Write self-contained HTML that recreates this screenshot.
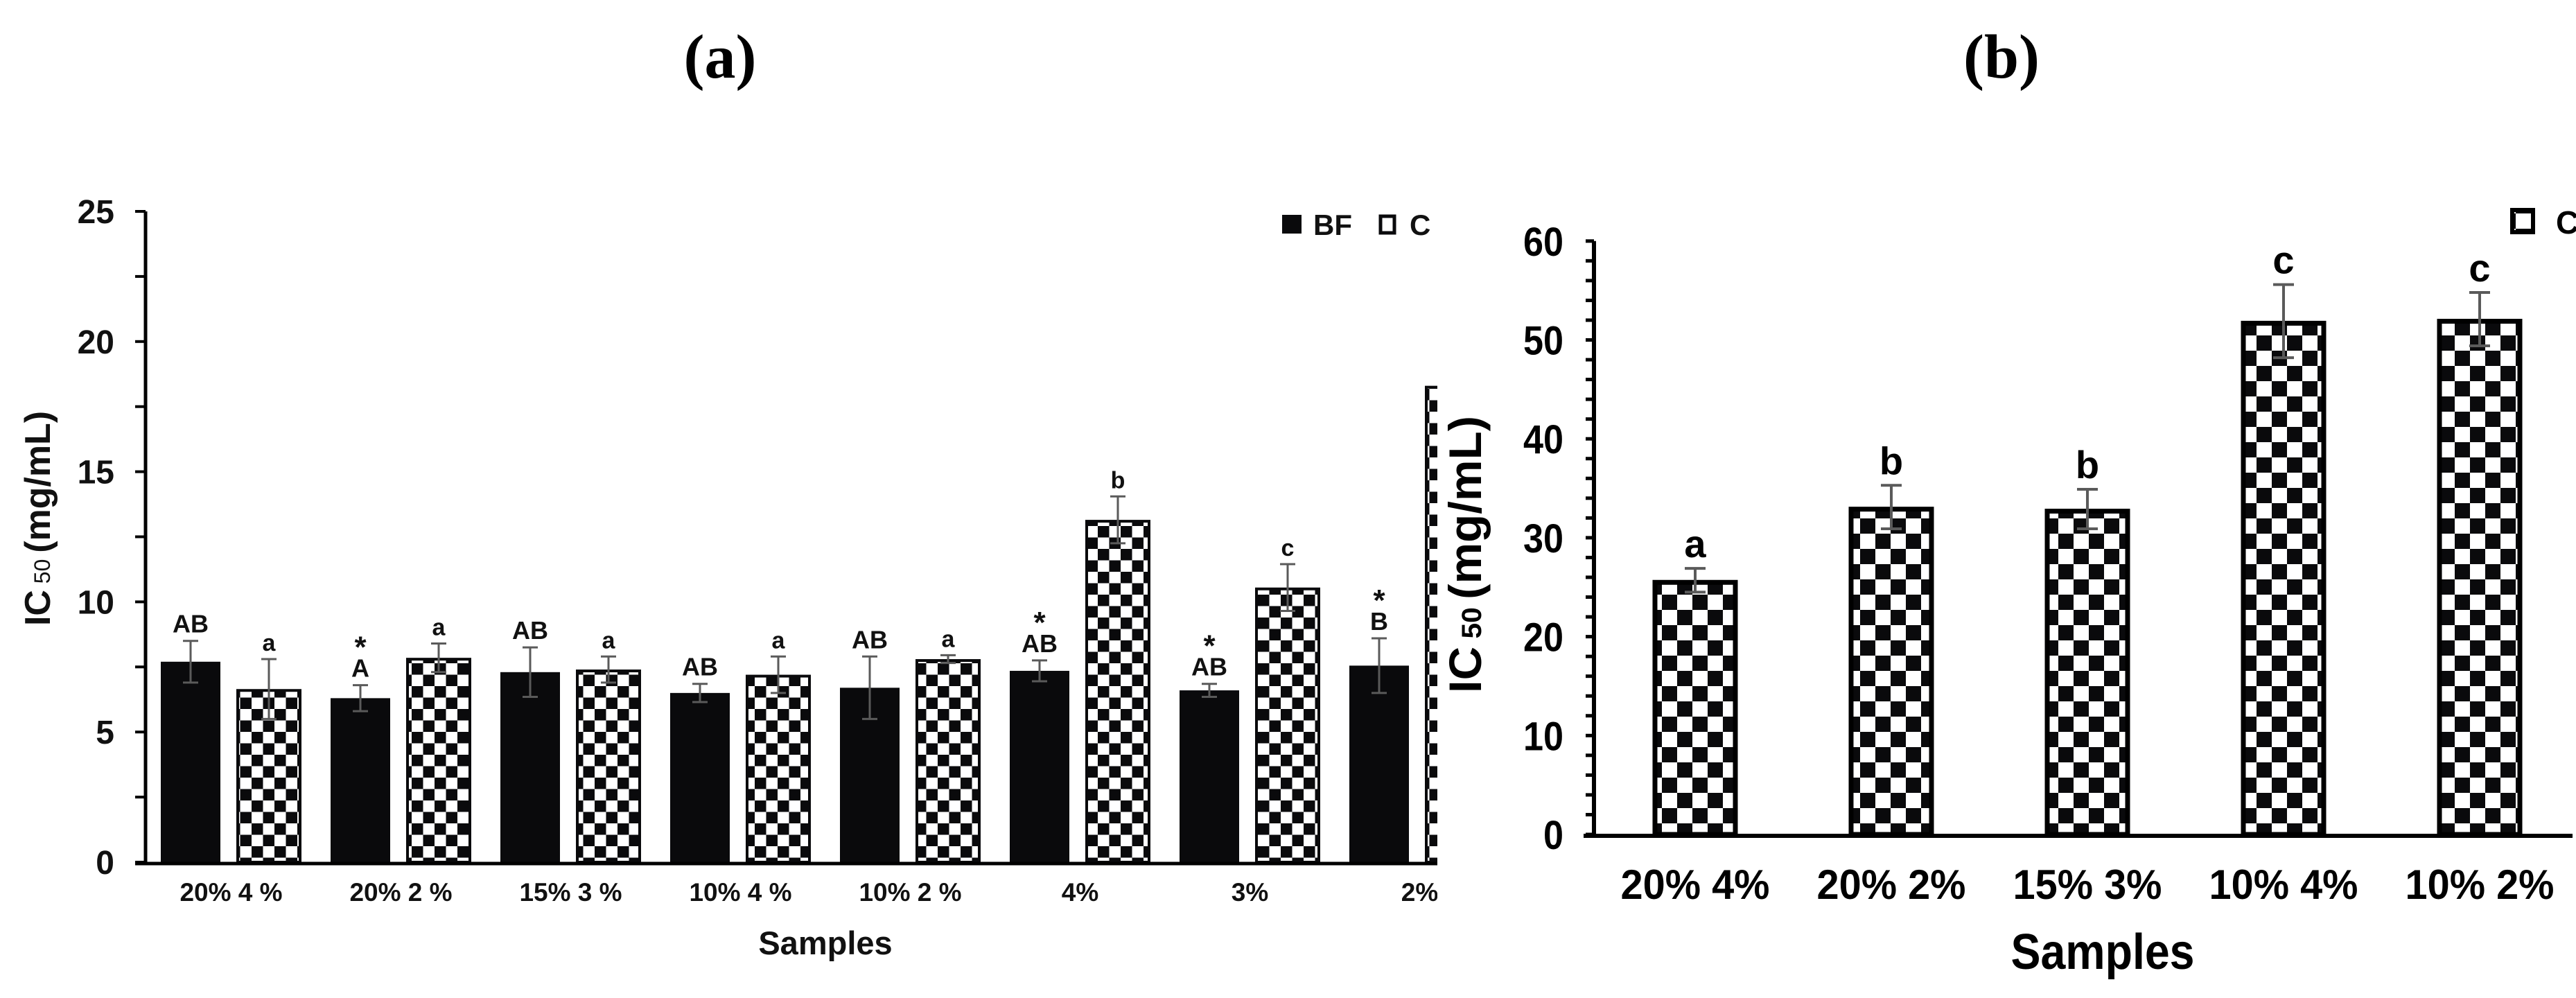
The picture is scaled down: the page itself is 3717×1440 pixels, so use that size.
<!DOCTYPE html>
<html><head><meta charset="utf-8">
<style>
html,body{margin:0;padding:0;background:#fff;}
svg{display:block;font-family:"Liberation Sans",Arial,sans-serif;}
</style></head>
<body>
<svg id="fig" width="3717" height="1440" viewBox="0 0 3717 1440" xmlns="http://www.w3.org/2000/svg">
<defs>
<pattern id="chkA" patternUnits="userSpaceOnUse" width="33" height="33"><rect width="33" height="33" fill="#fff"/><rect width="16.5" height="16.5" fill="#0a0a0c"/><rect x="16.5" y="16.5" width="16.5" height="16.5" fill="#0a0a0c"/></pattern>
<pattern id="chkB" patternUnits="userSpaceOnUse" width="44" height="44"><rect width="44" height="44" fill="#fff"/><rect width="22" height="22" fill="#0a0a0c"/><rect x="22" y="22" width="22" height="22" fill="#0a0a0c"/></pattern>
<clipPath id="clipA"><rect x="0" y="0" width="2074" height="1440"/></clipPath>
</defs>
<text x="1039" y="112" font-family="Liberation Serif, serif" font-weight="bold" font-size="90" text-anchor="middle">(a)</text>
<text x="2888" y="112" font-family="Liberation Serif, serif" font-weight="bold" font-size="90" text-anchor="middle">(b)</text>
<g id="chartA" clip-path="url(#clipA)"></g>
<g id="chartB"></g>
</svg>
<script>
// ---- Chart (a) data ----
const catsA = ["20% 4 %","20% 2 %","15% 3 %","10% 4 %","10% 2 %","4%","3%","2%"];
const bfVals = [7.7,6.3,7.3,6.5,6.7,7.35,6.6,7.55];
const bfErr = [0.8,0.5,0.95,0.35,1.2,0.4,0.25,1.05];
const cVals = [6.65,7.85,7.4,7.2,7.8,13.15,10.55,18.3];
const cErr = [1.15,0.55,0.5,0.7,0.15,0.9,0.9,0];
const bfLetters = ["AB","A","AB","AB","AB","AB","AB","B"];
const bfStars = [false,true,false,false,false,true,true,true];
const cLetters = ["a","a","a","a","a","b","c",""];
const ticksA = [0,5,10,15,20,25];
// ---- Chart (b) data ----
const catsB = ["20% 4%","20% 2%","15% 3%","10% 4%","10% 2%"];
const bVals = [25.7,33.1,32.9,51.9,52.1];
const bErr = [1.2,2.2,2.0,3.7,2.7];
const bLetters = ["a","b","b","c","c"];
const ticksB = [0,10,20,30,40,50,60];

const NS="http://www.w3.org/2000/svg";
function mk(parent,tag,attrs,text){const e=document.createElementNS(NS,tag);for(const k in attrs)e.setAttribute(k,attrs[k]);if(text!==undefined)e.textContent=text;parent.appendChild(e);return e;}

// ===== Chart A =====
const A=document.getElementById('chartA');
const yA=v=>1244-v*37.56;
const xGroupA=i=>232+i*245;
const bfW=86,cW=94,cOff=109;
let e;
e=mk(A,'line',{x1:210,y1:yA(25),x2:210,y2:1246,stroke:'#000','stroke-width':5});


for(let v=0;v<=25;v+=2.5){
  e=mk(A,'line',{x1:195,y1:yA(v),x2:210,y2:yA(v),stroke:'#000','stroke-width':4});
  
  
}
ticksA.forEach(t=>{
  e=mk(A,'text',{x:165,y:yA(t)+17,'text-anchor':'end','font-size':48,'font-weight':'bold',fill:'#111'},String(t));
  
  
});
e=mk(A,'text',{transform:'translate(72,748) rotate(-90)','text-anchor':'middle','font-size':52,'font-weight':'bold',fill:'#111',textLength:310,lengthAdjust:'spacingAndGlyphs'});


e.innerHTML='IC<tspan font-size="32" font-weight="normal"> 50 </tspan>(mg/mL)';
catsA.forEach((c,i)=>{
  const gx=xGroupA(i);
  e=mk(A,'rect',{x:gx,y:yA(bfVals[i]),width:bfW,height:yA(0)-yA(bfVals[i]),fill:'#0a0a0c'});
  
  
  const bcx=gx+bfW/2;
  const bt=yA(bfVals[i]+bfErr[i]), bb=yA(bfVals[i]-bfErr[i]);
  e=mk(A,'path',{d:`M${bcx},${bt}V${bb}M${bcx-11},${bt}H${bcx+11}M${bcx-11},${bb}H${bcx+11}`,stroke:'#5a5a5a','stroke-width':3,fill:'none'});
  
  
  e=mk(A,'text',{x:bcx,y:bt-12,'text-anchor':'middle','font-size':36,'font-weight':'bold',fill:'#111'},bfLetters[i]);
  
  
  if(bfStars[i]){
    e=mk(A,'text',{x:bcx,y:bt-40,'text-anchor':'middle','font-size':44,'font-weight':'bold',fill:'#111'},'*');
    
    
  }
  const cx=gx+cOff;
  e=mk(A,'rect',{x:cx+2,y:yA(cVals[i])+2,width:cW-4,height:yA(0)-yA(cVals[i])-2,fill:'url(#chkA)',stroke:'#0a0a0c','stroke-width':4});
  
  
  const ccx=cx+cW/2;
  if(cErr[i]>0){
    const ct=yA(cVals[i]+cErr[i]), cb=yA(cVals[i]-cErr[i]);
    e=mk(A,'path',{d:`M${ccx},${ct}V${cb}M${ccx-11},${ct}H${ccx+11}M${ccx-11},${cb}H${ccx+11}`,stroke:'#5a5a5a','stroke-width':3,fill:'none'});
    
    
  }
  if(cLetters[i]){
    e=mk(A,'text',{x:ccx,y:yA(cVals[i]+cErr[i])-12,'text-anchor':'middle','font-size':34,'font-weight':'bold',fill:'#111'},cLetters[i]);
    
    
  }
  e=mk(A,'text',{x:gx+(cOff+cW)/2,y:1300,'text-anchor':'middle','font-size':37,'font-weight':'bold',fill:'#111'},c);
  
  
});
e=mk(A,'line',{x1:195,y1:1246,x2:2074,y2:1246,stroke:'#000','stroke-width':5});


e=mk(A,'text',{x:1191,y:1377,'text-anchor':'middle','font-size':47,'font-weight':'bold',fill:'#111'},'Samples');


const lg=mk(A,'g',{});


e=mk(lg,'rect',{x:1850,y:310,width:28,height:27,fill:'#0a0a0c'});


e=mk(lg,'text',{x:1895,y:339,'font-size':42,'font-weight':'bold',fill:'#111'},'BF');


e=mk(lg,'rect',{x:1992,y:312,width:20,height:24,fill:'#fff',stroke:'#0a0a0c','stroke-width':5});


e=mk(lg,'text',{x:2034,y:339,'font-size':42,'font-weight':'bold',fill:'#111'},'C');



// ===== Chart B =====
const B=document.getElementById('chartB');
const yB=v=>1204-v*14.27;
const xB=i=>2385+i*283;
const bW=122;
e=mk(B,'line',{x1:2300,y1:yB(60),x2:2300,y2:1206,stroke:'#000','stroke-width':6});


for(let v=0;v<=60;v+=2){
  e=mk(B,'line',{x1:2288,y1:yB(v),x2:2300,y2:yB(v),stroke:'#000','stroke-width':5});
  
  
}
ticksB.forEach(t=>{
  const s=String(t);
  e=mk(B,'text',{x:2256,y:yB(t)+21,'text-anchor':'end','font-size':58,'font-weight':'bold',fill:'#000',textLength:s.length*29,lengthAdjust:'spacingAndGlyphs'},s);
  
  
});
e=mk(B,'text',{transform:'translate(2137,800) rotate(-90)','text-anchor':'middle','font-size':66,'font-weight':'bold',fill:'#000',textLength:400,lengthAdjust:'spacingAndGlyphs'});


e.innerHTML='IC<tspan font-size="40"> 50 </tspan>(mg/mL)';
catsB.forEach((c,i)=>{
  const x=xB(i);
  e=mk(B,'rect',{x:x+3,y:yB(bVals[i])+3,width:bW-6,height:yB(0)-yB(bVals[i])-3,fill:'url(#chkB)',stroke:'#000','stroke-width':7});
  
  
  const cx=x+bW/2, t=yB(bVals[i]+bErr[i]), b=yB(bVals[i]-bErr[i]);
  e=mk(B,'path',{d:`M${cx},${t}V${b}M${cx-15},${t}H${cx+15}M${cx-15},${b}H${cx+15}`,stroke:'#5a5a5a','stroke-width':4,fill:'none'});
  
  
  e=mk(B,'text',{x:cx,y:t-16,'text-anchor':'middle','font-size':56,'font-weight':'bold',fill:'#000'},bLetters[i]);
  
  
  e=mk(B,'text',{x:cx,y:1297,'text-anchor':'middle','font-size':60,'font-weight':'bold',fill:'#000',textLength:215,lengthAdjust:'spacingAndGlyphs'},c);
  
  
});
e=mk(B,'line',{x1:2285,y1:1206,x2:3712,y2:1206,stroke:'#000','stroke-width':6});


e=mk(B,'text',{x:3034,y:1398,'text-anchor':'middle','font-size':72,'font-weight':'bold',fill:'#000',textLength:265,lengthAdjust:'spacingAndGlyphs'},'Samples');


e=mk(B,'rect',{x:3625,y:303,width:30,height:32,fill:'url(#chkB)',stroke:'#000','stroke-width':6});


e=mk(B,'text',{x:3688,y:337,'font-size':46,'font-weight':'bold',fill:'#000'},'C');


</script>
</body></html>
